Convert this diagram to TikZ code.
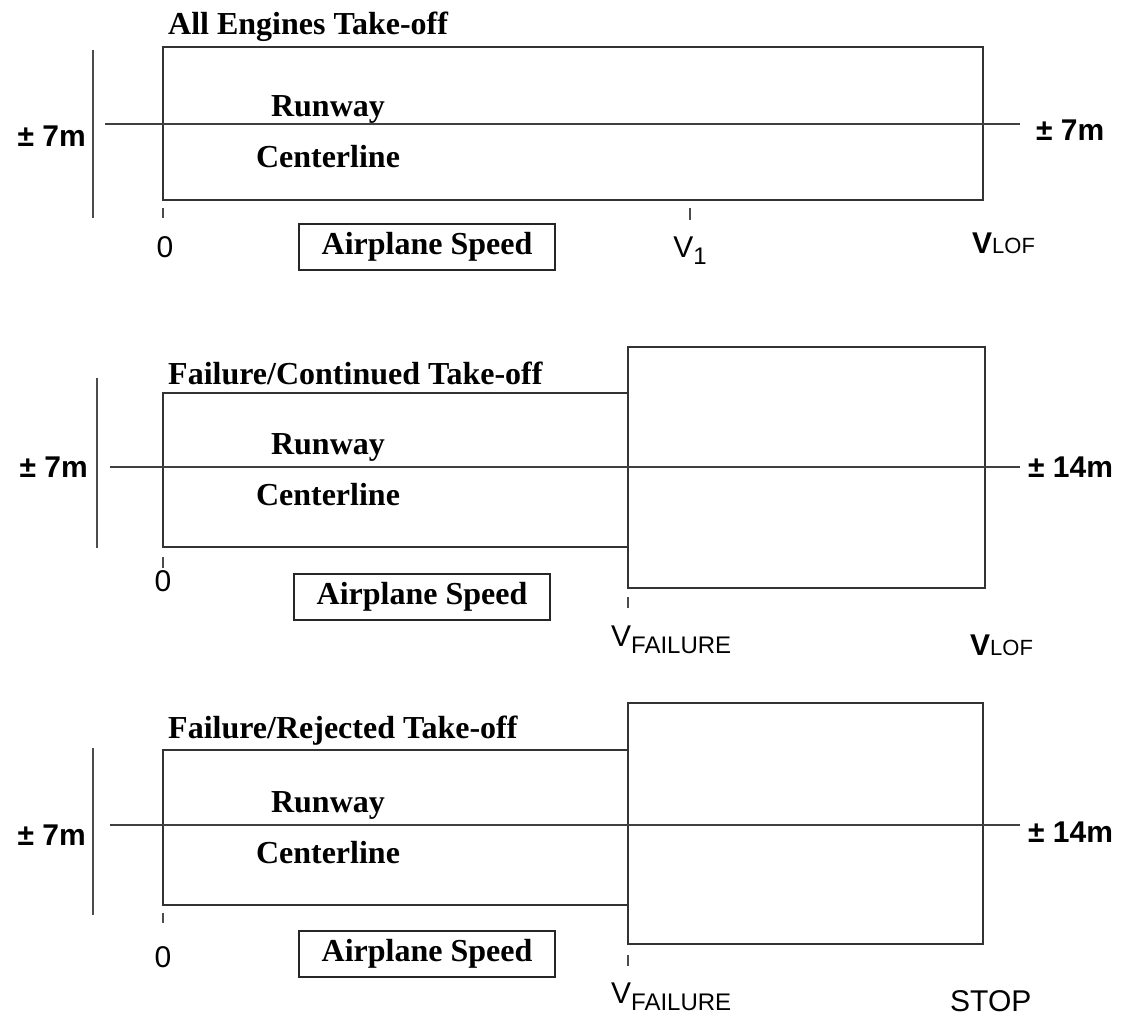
\documentclass[tikz,border=0pt]{standalone}
\usepackage{fontspec}
\setmainfont{Liberation Serif}
\setsansfont{Liberation Sans}
\tikzset{
  strip/.style={draw=black!80,line width=1.6pt},
  cline/.style={draw=black!75,line width=1.5pt},
  sidebar/.style={draw=black!70,line width=1.5pt},
  tick/.style={draw=black!70,line width=1.3pt},
  serifbold/.style={font=\fontsize{32}{34}\selectfont\bfseries,inner sep=0pt},
  sanslabel/.style={font=\fontsize{30}{32}\selectfont\sffamily,inner sep=0pt},
  widthlabel/.style={font=\fontsize{30}{32}\selectfont\sffamily\bfseries,inner sep=0pt},
  speedbox/.style={draw=black!85,line width=1.6pt,font=\fontsize{32}{34}\selectfont\bfseries,
    minimum width=256pt,minimum height=46pt,inner sep=0pt}
}
\newcommand{\subtxt}[1]{\raisebox{-7pt}{\fontsize{24}{24}\selectfont #1}}
\begin{document}
\begin{tikzpicture}[x=1pt,y=-1pt]
    \useasboundingbox (0,0) rectangle (1128,1017);

    \node[serifbold,anchor=west] (titleA) at (168,27) {All Engines Take-off};
    \draw[strip] (163,47) rectangle (983,200);
    \coordinate (clAl) at (105,124);
    \coordinate (clAr) at (1020,124);
    \draw[cline] (clAl) -- (clAr);
    \draw[sidebar] (93,50) -- (93,218);
    \node[widthlabel,anchor=east] (pmAl) at (86,136) {± 7m};
    \node[widthlabel,anchor=west] (pmAr) at (1036,130) {± 7m};
    \node[serifbold] (rwA) at (328,109) {Runway};
    \node[serifbold] (ctA) at (328,157) {Centerline};
    \draw[tick] (163,208) -- (163,218);
    \node[sanslabel] (zeroA) at (165,247) {0};
    \node[speedbox] (speedA) at (427,247) {Airplane Speed};
    \draw[tick] (690,208) -- (690,220);
    \node[sanslabel] (vA) at (690,251) {V\subtxt{1}};
    \node[sanslabel,anchor=west] (lofA) at (972,243) {{\bfseries V}{\fontsize{22}{22}\selectfont LOF}};

    \node[serifbold,anchor=west] (titleB) at (168,373) {Failure/Continued Take-off};
    \draw[strip] (628,393) -- (163,393) -- (163,547) -- (628,547);
    \draw[strip] (628,347) rectangle (985,588);
    \coordinate (clBl) at (110,467);
    \coordinate (clBr) at (1020,467);
    \draw[cline] (clBl) -- (clBr);
    \draw[sidebar] (97,378) -- (97,548);
    \node[widthlabel,anchor=east] (pmBl) at (88,467) {± 7m};
    \node[widthlabel,anchor=west] (pmBr) at (1028,467) {± 14m};
    \node[serifbold] (rwB) at (328,447) {Runway};
    \node[serifbold] (ctB) at (328,495) {Centerline};
    \draw[tick] (163,557) -- (163,568);
    \node[sanslabel] (zeroB) at (163,581) {0};
    \node[speedbox] (speedB) at (422,597) {Airplane Speed};
    \draw[tick] (628,597) -- (628,608);
    \node[sanslabel,anchor=west] (vfB) at (611,640) {V\subtxt{FAILURE}};
    \node[sanslabel,anchor=west] (lofB) at (970,645) {{\bfseries V}{\fontsize{22}{22}\selectfont LOF}};

    \node[serifbold,anchor=west] (titleC) at (168,731) {Failure/Rejected Take-off};
    \draw[strip] (628,750) -- (163,750) -- (163,905) -- (628,905);
    \draw[strip] (628,703) rectangle (983,944);
    \coordinate (clCl) at (110,825);
    \coordinate (clCr) at (1020,825);
    \draw[cline] (clCl) -- (clCr);
    \draw[sidebar] (93,748) -- (93,915);
    \node[widthlabel,anchor=east] (pmCl) at (86,835) {± 7m};
    \node[widthlabel,anchor=west] (pmCr) at (1028,832) {± 14m};
    \node[serifbold] (rwC) at (328,805) {Runway};
    \node[serifbold] (ctC) at (328,853) {Centerline};
    \draw[tick] (163,913) -- (163,923);
    \node[sanslabel] (zeroC) at (163,957) {0};
    \node[speedbox] (speedC) at (427,954) {Airplane Speed};
    \draw[tick] (628,955) -- (628,966);
    \node[sanslabel,anchor=west] (vfC) at (611,997) {V\subtxt{FAILURE}};
    \node[sanslabel,anchor=west] (stopC) at (950,1001) {STOP};

\end{tikzpicture}
\end{document}
